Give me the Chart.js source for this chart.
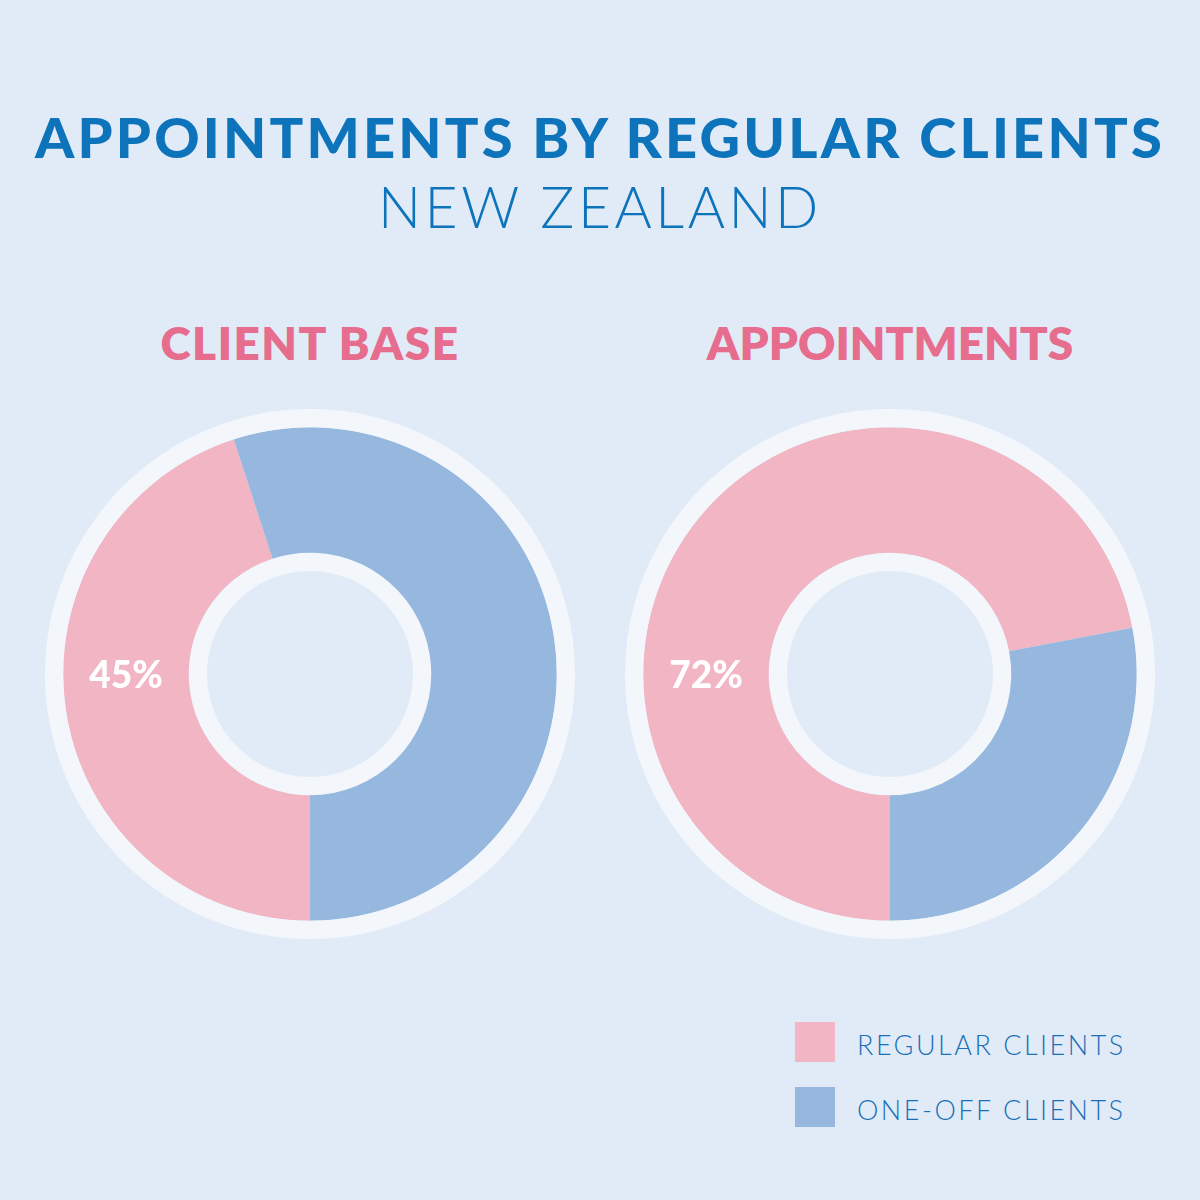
<!DOCTYPE html>
<html>
<head>
<meta charset="utf-8">
<script src="https://cdn.jsdelivr.net/npm/chart.js@4/dist/chart.umd.min.js"></script>
<style>
  html, body { margin: 0; padding: 0; }
  body { width: 1200px; height: 1200px; background: #e1ebf7; position: relative; overflow: hidden; font-family: Lato, "Open Sans", sans-serif; }
  .title { position: absolute; left: 0; width: 1200px; text-align: center; top: 109px; font-size: 56px; font-weight: 900; color: #0d74bb; letter-spacing: 3.2px; line-height: 1; }
  .subtitle { position: absolute; left: 0; width: 1200px; text-align: center; top: 178px; font-size: 57px; font-weight: 300; color: #0d74bb; letter-spacing: 3.5px; line-height: 1; }
  .heading { position: absolute; width: 580px; text-align: center; top: 320px; font-size: 46px; font-weight: 800; color: #e66d8d; letter-spacing: 1.5px; line-height: 1; }
  .chartbox { position: absolute; width: 540px; height: 540px; }
  .legend { position: absolute; left: 795px; top: 1022px; }
  .item { position: relative; height: 40px; margin-bottom: 25px; }
  .sw { position: absolute; left: 0; top: 0; width: 40px; height: 40px; }
  .lbl { position: absolute; left: 62px; top: 9px; font-size: 27px; font-weight: 300; color: #1a70b8; letter-spacing: 2.5px; line-height: 1; white-space: nowrap; }
</style>
</head>
<body>
<div class="title">APPOINTMENTS BY REGULAR CLIENTS</div>
<div class="subtitle">NEW ZEALAND</div>
<div class="heading" id="h1" style="left:20px"></div>
<div class="heading" id="h2" style="left:600px; letter-spacing:0px"></div>
<div class="chartbox" style="left:40px; top:404px"><canvas id="c1" width="540" height="540"></canvas></div>
<div class="chartbox" style="left:620px; top:404px"><canvas id="c2" width="540" height="540"></canvas></div>
<div class="legend" id="legend"></div>
<script>
const categories = ['REGULAR CLIENTS', 'ONE-OFF CLIENTS'];
const chartTitles = ['CLIENT BASE', 'APPOINTMENTS'];
const clientBase = [45, 55];
const appointments = [72, 28];
const colors = ['#f2b5c4', '#97b8de'];
const ringColor = '#f3f7fc';

document.getElementById('h1').textContent = chartTitles[0];
document.getElementById('h2').textContent = chartTitles[1];

const legend = document.getElementById('legend');
categories.forEach((c, i) => {
  const d = document.createElement('div');
  d.className = 'item';
  d.innerHTML = '<div class="sw" style="background:' + colors[i] + '"></div><div class="lbl"></div>';
  d.querySelector('.lbl').textContent = c;
  legend.appendChild(d);
});

const pctLabel = {
  id: 'pctLabel',
  afterDatasetsDraw(chart) {
    const meta = chart.getDatasetMeta(1);
    const el = meta.data[0];
    if (!el) return;
    const r = (el.innerRadius + el.outerRadius) / 2;
    const ctx = chart.ctx;
    const v = chart.data.datasets[1].data[0];
    ctx.save();
    ctx.fillStyle = '#ffffff';
    ctx.font = '900 37px Lato, sans-serif';
    ctx.textAlign = 'center';
    ctx.textBaseline = 'middle';
    ctx.fillText(v + '%', el.x - r, el.y + 2);
    ctx.restore();
  }
};

function makeChart(id, values) {
  return new Chart(document.getElementById(id), {
    type: 'doughnut',
    data: {
      labels: categories,
      datasets: [
        { data: [1], backgroundColor: [ringColor], weight: 18 },
        { data: values, backgroundColor: colors, weight: 124 },
        { data: [1], backgroundColor: [ringColor], weight: 18 }
      ]
    },
    options: {
      responsive: false,
      animation: false,
      rotation: 180,
      radius: 265,
      cutout: 105,
      borderWidth: 0,
      hoverOffset: 0,
      offset: 0,
      layout: { padding: 0 },
      plugins: { legend: { display: false }, tooltip: { enabled: false } },
      events: []
    },
    plugins: [pctLabel]
  });
}
makeChart('c1', clientBase);
makeChart('c2', appointments);
</script>
</body>
</html>
